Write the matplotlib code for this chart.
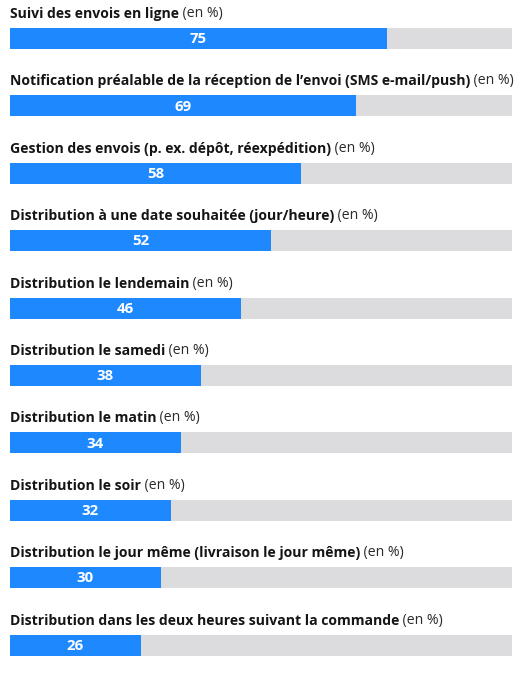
import matplotlib
matplotlib.use('Agg')
from matplotlib import pyplot as plt

# labels (bold part) and values
labels = ['Suivi des envois en ligne',
          'Notification préalable de la réception de l\u2019envoi (SMS e-mail/push)',
          'Gestion des envois (p. ex. dépôt, réexpédition)',
          'Distribution à une date souhaitée (jour/heure)',
          'Distribution le lendemain',
          'Distribution le samedi',
          'Distribution le matin',
          'Distribution le soir',
          'Distribution le jour même (livraison le jour même)',
          'Distribution dans les deux heures suivant la commande']
values = [75, 69, 58, 52, 46, 38, 34, 32, 30, 26]
unit = '(en %)'

blue = '#1e88ff'
grey = '#dcdcde'
plt.rcParams['font.family'] = ['Open Sans', 'DejaVu Sans']

W, H = 530, 676
fig = plt.figure(figsize=(W / 100, H / 100), dpi=100)
ax = fig.add_axes([10 / W, 0, 502 / W, 1])

# row i sits at 38.5 + 67.4*i px from the top
step = 67.4
ax.set_ylim((H - 38.5) / step, -38.5 / step)
ax.set_xlim(0, 100)
ax.axis('off')

rows = list(range(len(values)))
ax.barh(rows, [100] * len(values), height=21 / step, color=grey, left=0)
ax.barh(rows, values, height=21 / step, color=blue, left=0)

for i in rows:
    ax.text(values[i] / 2, i + 0.01, str(values[i]), color='white', fontsize=10.8,
            fontweight='bold', ha='center', va='center')
    t = ax.text(0, i - 24.5 / step, labels[i], fontsize=10.1, fontweight='bold',
                color='#151515', ha='left', va='center')
    ax.annotate(' ' + unit, xy=(1, 0), xycoords=t, fontsize=10.1,
                color='#2a2a2a', ha='left', va='bottom')

fig.savefig('out.png', dpi=100)
